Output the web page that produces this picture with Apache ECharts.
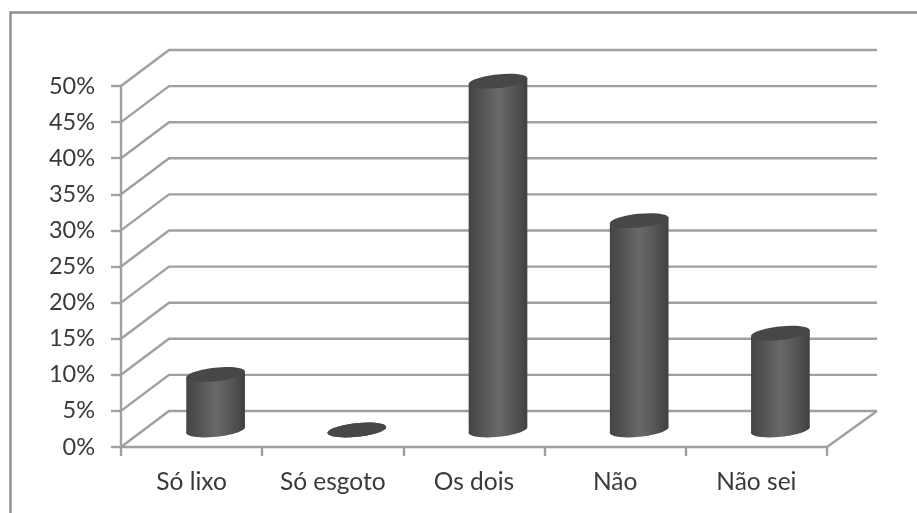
<!DOCTYPE html>
<html>
<head>
<meta charset="utf-8">
<style>html,body{margin:0;padding:0;background:#fff}#chart{width:917px;height:513px}</style>
<script src="https://cdn.jsdelivr.net/npm/echarts@6/dist/echarts.min.js"></script>
</head>
<body>
<div id="chart"></div>
<script>
const categories = ['Só lixo', 'Só esgoto', 'Os dois', 'Não', 'Não sei'];
const percentages = [7.7, 0, 48.3, 29, 13.4];
const gridValues = [0, 5, 10, 15, 20, 25, 30, 35, 40, 45, 50];

// Oblique projection of the 3D box: the back wall sits up and to the right.
const DEPTH_X = 48;
const DEPTH_Y = -36;
// Cylinders stand in the middle of the floor depth.
const BASE_X = 24;
const BASE_Y = -17;
const RADIUS_X = 29.5;
const RADIUS_Y = 6.8;
const TILT = 6 * Math.PI / 180;
const LINE = '#a0a0a0';
const LINE_WIDTH = 2.4;

function renderWall(params, api) {
  const cs = params.coordSys;
  const y = api.coord([0, api.value(0)])[1];
  const children = [{
    type: 'polyline',
    shape: { points: [[cs.x, y], [cs.x + DEPTH_X, y + DEPTH_Y], [cs.x + cs.width + DEPTH_X + 2, y + DEPTH_Y]] },
    style: { fill: null, stroke: LINE, lineWidth: LINE_WIDTH }
  }];
  if (api.value(0) === 0) {
    children.push({
      type: 'line',
      shape: { x1: cs.x + cs.width, y1: y, x2: cs.x + cs.width + DEPTH_X + 2, y2: y + DEPTH_Y },
      style: { stroke: LINE, lineWidth: LINE_WIDTH }
    });
  }
  return { type: 'group', children };
}

function renderCylinder(params, api) {
  const top = api.coord([api.value(0), api.value(1)]);
  const base = api.coord([api.value(0), 0]);
  const cx = top[0] + BASE_X;
  const topY = top[1] + BASE_Y;
  const baseY = base[1] + BASE_Y;
  const dx = RADIUS_X * Math.cos(TILT);
  const dy = RADIUS_X * Math.sin(TILT);
  const side = {
    type: 'linear', x: 0, y: 0, x2: 1, y2: 0,
    colorStops: [
      { offset: 0, color: '#444444' },
      { offset: 0.2, color: '#525252' },
      { offset: 0.5, color: '#696969' },
      { offset: 0.8, color: '#535353' },
      { offset: 1, color: '#404040' }
    ]
  };
  const ellipse = (y, fill) => ({
    type: 'ellipse',
    x: cx, y,
    rotation: TILT,
    shape: { cx: 0, cy: 0, rx: RADIUS_X, ry: RADIUS_Y },
    style: { fill }
  });
  return {
    type: 'group',
    children: [
      ellipse(baseY, side),
      {
        type: 'polygon',
        shape: { points: [[cx - dx, topY + dy], [cx + dx, topY - dy], [cx + dx, baseY - dy], [cx - dx, baseY + dy]] },
        style: { fill: side }
      },
      ellipse(topY, '#474747')
    ]
  };
}

const chart = echarts.init(document.getElementById('chart'), null, { renderer: 'canvas' });
chart.setOption({
  animation: false,
  backgroundColor: '#ffffff',
  textStyle: { fontFamily: 'Lato' },
  graphic: [
    {
      type: 'polyline',
      silent: true,
      shape: { points: [[10.5, 513], [10.5, 12.5], [917, 12.5]] },
      style: { fill: null, stroke: '#8e8e8e', lineWidth: 2.4 }
    }
  ],
  grid: { left: 121, right: 90, top: 86, bottom: 66 },
  xAxis: {
    type: 'category',
    data: categories,
    axisLine: { lineStyle: { color: LINE, width: LINE_WIDTH } },
    axisTick: { show: true, alignWithLabel: false, length: 9, lineStyle: { color: LINE, width: LINE_WIDTH } },
    axisLabel: { color: '#3a3a3a', fontSize: 24.5, margin: 23, fontFamily: 'Lato' }
  },
  yAxis: {
    type: 'value',
    min: 0,
    max: 50,
    interval: 5,
    axisLine: { show: true, lineStyle: { color: LINE, width: LINE_WIDTH } },
    axisTick: { show: true, length: 10, lineStyle: { color: LINE, width: LINE_WIDTH } },
    axisLabel: { color: '#3a3a3a', fontSize: 23.5, margin: 26, formatter: '{value}%', fontFamily: 'Lato' },
    splitLine: { show: false }
  },
  series: [
    {
      type: 'custom',
      name: 'Paredes',
      coordinateSystem: 'cartesian2d',
      renderItem: renderWall,
      encode: { y: 0 },
      data: gridValues.map(v => [v]),
      silent: true,
      clip: false,
      z: 1
    },
    {
      type: 'custom',
      name: 'Respostas',
      coordinateSystem: 'cartesian2d',
      renderItem: renderCylinder,
      encode: { x: 0, y: 1 },
      data: percentages.map((v, i) => [i, v]),
      clip: false,
      z: 3
    }
  ]
});
</script>
</body>
</html>
